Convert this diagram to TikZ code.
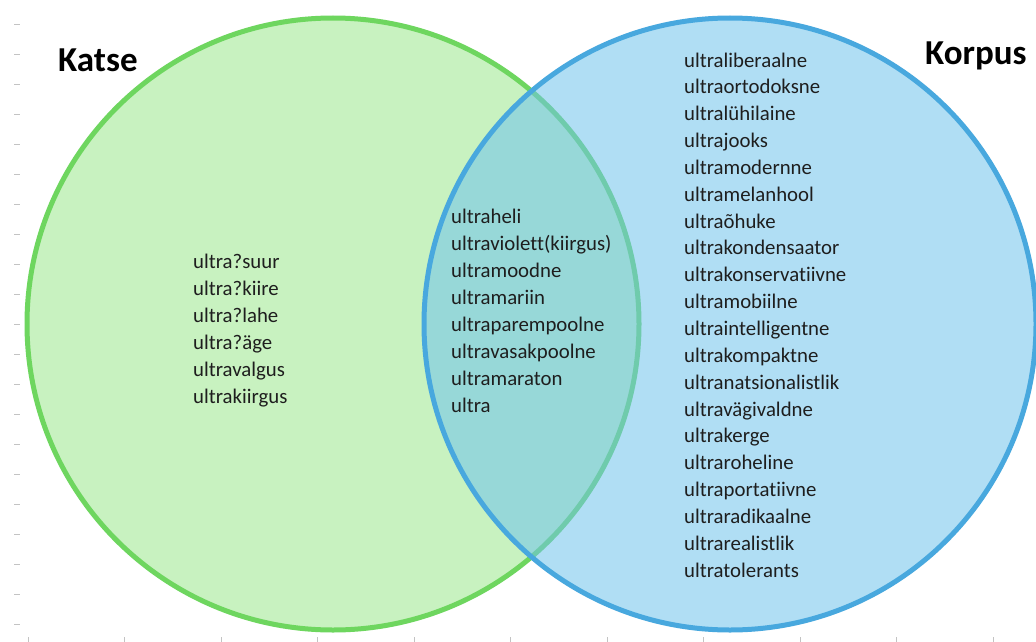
\documentclass[tikz,border=0pt]{standalone}
\usepackage{fontspec}
\setmainfont{Carlito}[Ligatures=NoCommon]
\definecolor{gfill}{RGB}{200,242,192}
\definecolor{gline}{RGB}{110,214,95}
\definecolor{bfill}{RGB}{112,195,236}
\definecolor{bline}{RGB}{72,168,222}
\definecolor{txt}{RGB}{30,30,30}
\definecolor{tickc}{RGB}{195,195,195}
\tikzset{
  item/.style={anchor=base west, inner sep=0pt, text=txt, font=\fontsize{20.8}{27}\selectfont},
  title/.style={anchor=base west, inner sep=0pt, text=black, font=\fontsize{35}{40}\selectfont\bfseries},
  tickmark/.style={draw=tickc, line width=0.8pt},
  ring/.style={line width=5pt}
}
\begin{document}
\begin{tikzpicture}[x=1pt,y=-1pt]
\useasboundingbox[fill=white] (0,0) rectangle (1036,642);
% grid tick marks
\foreach \k in {0,...,20} \draw[tickmark] (14,{24+30*\k}) -- (20,{24+30*\k});
\foreach \k in {0,...,10} \draw[tickmark] ({28+96.5*\k},637) -- ({28+96.5*\k},642);
% circles
\fill[gfill] (333,324) circle[radius=306pt];
\draw[gline, ring] (333,324) circle[radius=306pt];
\fill[bfill, fill opacity=0.55] (730,324) circle[radius=306pt];
\draw[bline, ring] (730,324) circle[radius=306pt];
% titles
\node[title] (katse) at (58,71) {Katse};
\node[title] (korpus) at (925,64) {Korpus};
% left list
\foreach \w [count=\i] in {ultra?suur,ultra?kiire,ultra?lahe,ultra?äge,ultravalgus,ultrakiirgus}
  \node[item] (L\i) at (193,{268+27*(\i-1)}) {\w};
% middle list
\foreach \w [count=\i] in {ultraheli,ultraviolett(kiirgus),ultramoodne,ultramariin,ultraparempoolne,ultravasakpoolne,ultramaraton,ultra}
  \node[item] (M\i) at (451,{223+27*(\i-1)}) {\w};
% right list
\foreach \w [count=\i] in {ultraliberaalne,ultraortodoksne,ultralühilaine,ultrajooks,ultramodernne,ultramelanhool,ultraõhuke,ultrakondensaator,ultrakonservatiivne,ultramobiilne,ultraintelligentne,ultrakompaktne,ultranatsionalistlik,ultravägivaldne,ultrakerge,ultraroheline,ultraportatiivne,ultraradikaalne,ultrarealistlik,ultratolerants}
  \node[item] (R\i) at (684,{67+26.85*(\i-1)}) {\w};
\end{tikzpicture}
\end{document}
